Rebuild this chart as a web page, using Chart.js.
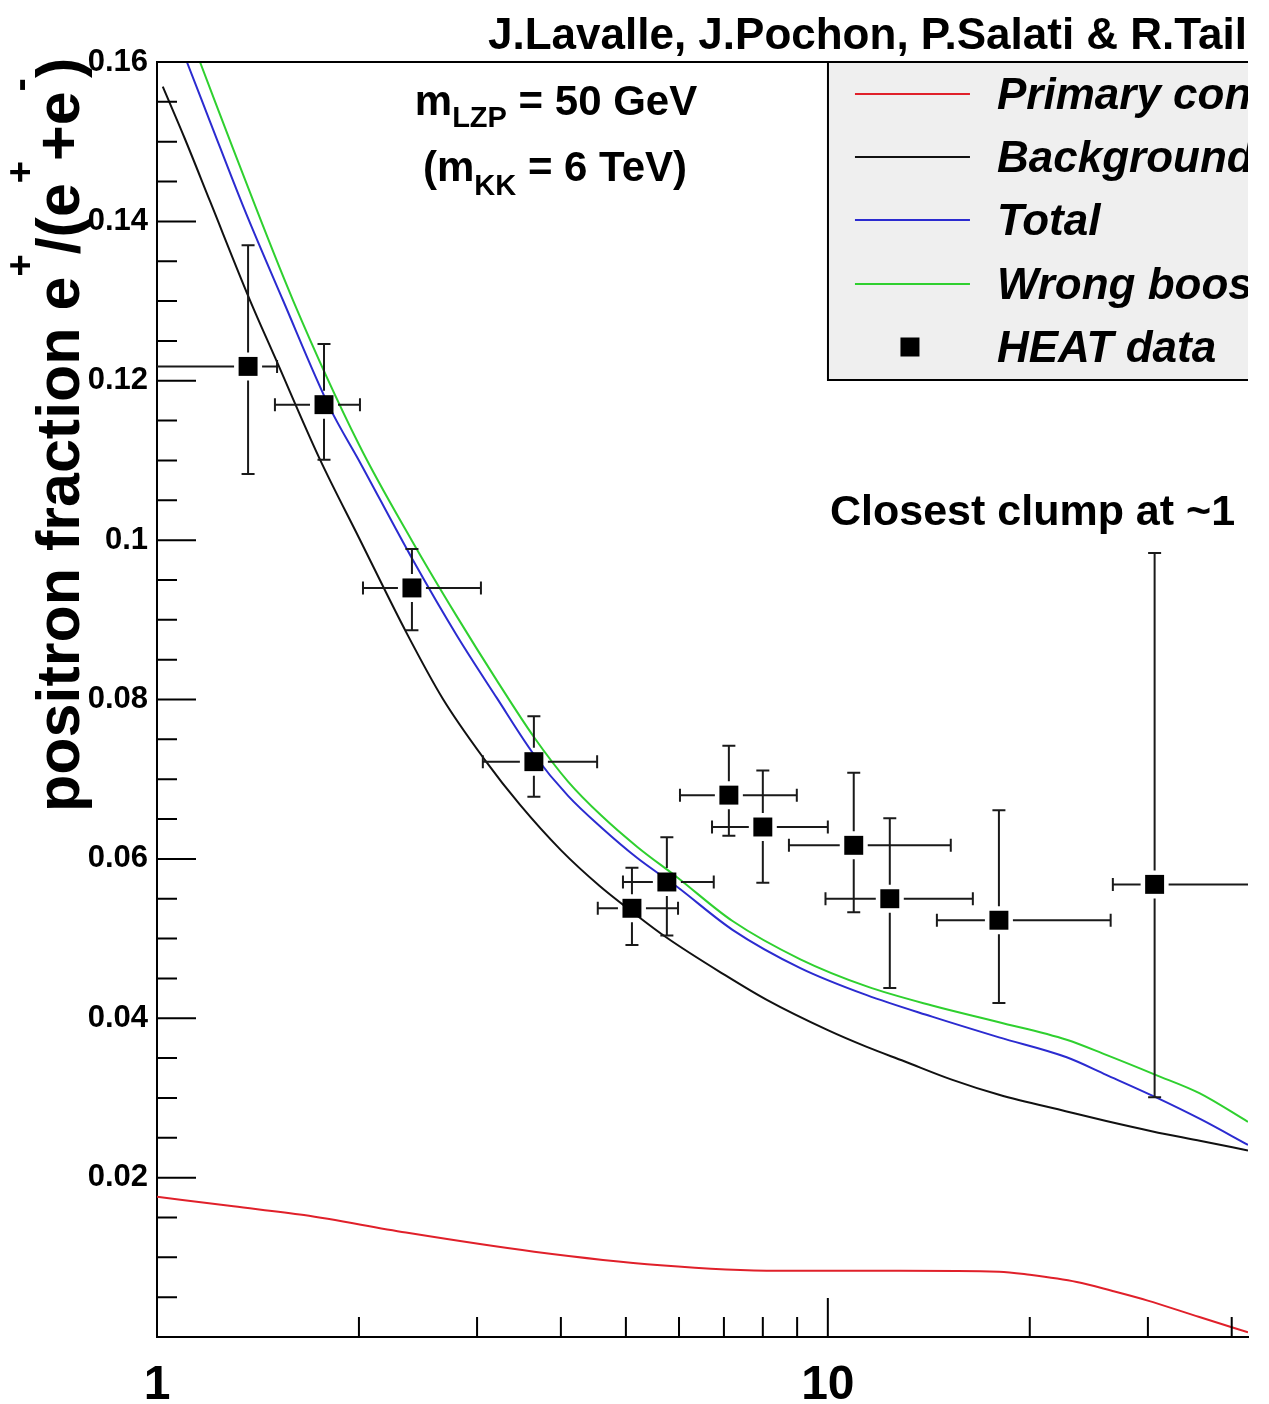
<!DOCTYPE html>
<html>
<head>
<meta charset="utf-8">
<script src="https://cdn.jsdelivr.net/npm/chart.js@4.4.1/dist/chart.umd.min.js"></script>
<style>
  html, body { margin: 0; padding: 0; background: #ffffff; }
  #c { display: block; }
</style>
</head>
<body>
<canvas id="c" width="1269" height="1404"></canvas>
<script>
// ---------------- data ----------------
const xTickValues = [1, 2, 3, 4, 5, 6, 7, 8, 9, 10, 20, 30, 40];
const xTickLabels = ['1', '10'];
const yTickLabels = ['0.02', '0.04', '0.06', '0.08', '0.1', '0.12', '0.14', '0.16'];

// Primary contribution (red)
const priX = [1.0, 1.3, 1.656, 2.35, 3.65, 5.63, 8.44, 12.8, 18.0, 20.0, 23.5, 26.5, 29.9, 35.8, 42.3];
const priY = [0.0176, 0.0164, 0.0153, 0.0131, 0.0107, 0.0090, 0.0083, 0.0083, 0.0082, 0.0078, 0.0069, 0.0058, 0.0046, 0.0025, 0.0006];

// Background (black)
const bgX = [1.02, 1.1, 1.2, 1.376, 1.5, 1.75, 2.0, 2.357, 2.667, 3.083, 3.475, 4.0, 4.57, 5.12, 5.755, 7.0, 8.11, 10.0, 11.43, 13.0, 15.3, 18.0, 22.7, 26.0, 30.5, 36.0, 42.3];
const bgY = [0.1569, 0.1504, 0.1425, 0.1301, 0.1229, 0.1101, 0.1003, 0.0883, 0.0801, 0.0724, 0.0668, 0.0611, 0.0566, 0.0533, 0.0501, 0.0455, 0.0423, 0.0385, 0.0364, 0.0346, 0.0323, 0.0304, 0.0283, 0.0271, 0.0258, 0.0246, 0.0234];

// Total (blue)
const totX = [1.0, 1.108, 1.2, 1.35, 1.541, 1.81, 2.0, 2.407, 2.8, 3.21, 3.646, 4.1, 4.6, 5.2, 5.96, 7.21, 9.1, 11.43, 14.3, 18.0, 22.7, 26.0, 30.8, 36.0, 42.3];
const totY = [0.1693, 0.1600, 0.1525, 0.1415, 0.1301, 0.1166, 0.1100, 0.0975, 0.0880, 0.0802, 0.0731, 0.0679, 0.0639, 0.0601, 0.0565, 0.0511, 0.0463, 0.0429, 0.0402, 0.0376, 0.0351, 0.0329, 0.0301, 0.0273, 0.0241];

// Wrong boost (green)
const wbX = [1.0, 1.159, 1.3, 1.595, 2.0, 2.4, 2.8, 3.21, 3.646, 4.1, 4.6, 5.2, 5.96, 7.21, 9.1, 11.43, 14.3, 18.0, 22.7, 26.0, 30.8, 35.8, 42.3];
const wbY = [0.1738, 0.1600, 0.1490, 0.1301, 0.1120, 0.0999, 0.0904, 0.0824, 0.0753, 0.0697, 0.0654, 0.0615, 0.0577, 0.0522, 0.0474, 0.0440, 0.0416, 0.0395, 0.0373, 0.0354, 0.0329, 0.0306, 0.0270];

// HEAT data
const heatX   = [1.367, 1.774, 2.399, 3.646, 5.105, 5.755, 7.12, 8.00, 10.93, 12.37, 17.99, 30.7];
const heatY   = [0.1218, 0.1170, 0.0940, 0.0722, 0.0538, 0.0571, 0.0680, 0.0640, 0.0617, 0.0550, 0.0523, 0.0568];
const heatYlo = [0.1083, 0.1101, 0.0887, 0.0678, 0.0492, 0.0504, 0.0629, 0.0570, 0.0533, 0.0438, 0.0419, 0.0301];
const heatYhi = [0.1370, 0.1246, 0.0989, 0.0779, 0.0589, 0.0627, 0.0742, 0.0711, 0.0708, 0.0651, 0.0661, 0.0984];
const heatXlo = [0.95, 1.499, 2.028, 3.06, 4.54, 4.95, 6.02, 6.72, 8.75, 9.92, 14.54, 26.6];
const heatXhi = [1.51, 2.007, 3.04, 4.53, 5.98, 6.76, 8.99, 10.0, 15.25, 16.45, 26.4, 50.0];

const legendLabels = ['Primary contribution', 'Background', 'Total', 'Wrong boost', 'HEAT data'];
const titleText = 'J.Lavalle, J.Pochon, P.Salati & R.Taillet';
const clumpText = 'Closest clump at ~1 kpc';

// ---------------- styles ----------------
const FAM = "'Liberation Sans', Arial, Helvetica, sans-serif";
const C_RED = '#e0202a', C_BLACK = '#111111', C_BLUE = '#2b2bd0', C_GREEN = '#2fd02f';

function pts(xs, ys) { return xs.map((x, i) => ({ x: x, y: ys[i] })); }

function runsWidth(ctx, runs, style) {
  let w = 0;
  runs.forEach(r => { ctx.font = style + ' ' + r.s + 'px ' + FAM; w += ctx.measureText(r.t).width; });
  return w;
}
function drawRuns(ctx, runs, x, y, style) {
  let cx = x;
  runs.forEach(r => {
    ctx.font = style + ' ' + r.s + 'px ' + FAM;
    ctx.fillText(r.t, cx, y + (r.dy || 0));
    cx += ctx.measureText(r.t).width;
  });
}

const HEAT_INDEX = 4;

const overlay = {
  id: 'overlay',
  beforeDatasetDraw(chart, args) {
    if (args.index !== HEAT_INDEX) return;
    const { ctx, chartArea: a, scales: { x, y } } = chart;
    ctx.save();
    ctx.beginPath();
    ctx.rect(a.left, a.top, a.right - a.left, a.bottom - a.top);
    ctx.clip();
    ctx.strokeStyle = '#1a1a1a';
    ctx.lineWidth = 2;
    const gap = 14, cap = 6.5;
    for (let i = 0; i < heatX.length; i++) {
      const px = x.getPixelForValue(heatX[i]);
      const py = y.getPixelForValue(heatY[i]);
      const pxl = x.getPixelForValue(heatXlo[i]);
      const pxh = x.getPixelForValue(heatXhi[i]);
      const pyl = y.getPixelForValue(heatYlo[i]);
      const pyh = y.getPixelForValue(heatYhi[i]);
      ctx.beginPath();
      if (px - pxl > gap) { ctx.moveTo(px - gap, py); ctx.lineTo(pxl, py); ctx.moveTo(pxl, py - cap); ctx.lineTo(pxl, py + cap); }
      if (pxh - px > gap) { ctx.moveTo(px + gap, py); ctx.lineTo(pxh, py); ctx.moveTo(pxh, py - cap); ctx.lineTo(pxh, py + cap); }
      if (pyl - py > gap) { ctx.moveTo(px, py + gap); ctx.lineTo(px, pyl); ctx.moveTo(px - cap, pyl); ctx.lineTo(px + cap, pyl); }
      if (py - pyh > gap) { ctx.moveTo(px, py - gap); ctx.lineTo(px, pyh); ctx.moveTo(px - cap, pyh); ctx.lineTo(px + cap, pyh); }
      ctx.stroke();
    }
    ctx.restore();
  },
  afterDatasetsDraw(chart) {
    const { ctx, chartArea: a, scales: { x, y } } = chart;
    ctx.save();
    // the reference picture is cropped at the right edge of the frame
    ctx.beginPath();
    ctx.rect(0, 0, a.right, chart.height);
    ctx.clip();

    // tick marks (inside the frame)
    ctx.strokeStyle = '#000';
    ctx.lineWidth = 2;
    ctx.beginPath();
    x.ticks.forEach(t => {
      const px = x.getPixelForValue(t.value);
      const major = xTickLabels.includes(String(t.value));
      ctx.moveTo(px, a.bottom);
      ctx.lineTo(px, a.bottom - (major ? 39 : 20));
    });
    y.ticks.forEach(t => {
      const py = y.getPixelForValue(t.value);
      const k = t.value / 0.02;
      const major = Math.abs(k - Math.round(k)) < 1e-6;
      ctx.moveTo(a.left, py);
      ctx.lineTo(a.left + (major ? 39 : 20), py);
    });
    ctx.stroke();

    // top frame line
    ctx.beginPath();
    ctx.moveTo(a.left, a.top);
    ctx.lineTo(a.right, a.top);
    ctx.stroke();

    // legend box
    const lx = a.left + 0.615 * (a.right - a.left);
    const ly0 = a.top, ly1 = a.top + 318;
    ctx.fillStyle = '#efefef';
    ctx.fillRect(lx, ly0, a.right - lx, ly1 - ly0);
    ctx.beginPath();
    ctx.moveTo(lx, ly0);
    ctx.lineTo(lx, ly1);
    ctx.lineTo(a.right, ly1);
    ctx.moveTo(lx, ly0);
    ctx.lineTo(a.right, ly0);
    ctx.strokeStyle = '#000';
    ctx.lineWidth = 2;
    ctx.stroke();

    const rows = [32, 95, 158, 222, 285];
    const cols = [C_RED, C_BLACK, C_BLUE, C_GREEN, null];
    rows.forEach((dy, i) => {
      const yy = ly0 + dy;
      if (cols[i]) {
        ctx.strokeStyle = cols[i];
        ctx.lineWidth = 2;
        ctx.beginPath();
        ctx.moveTo(lx + 27, yy);
        ctx.lineTo(lx + 142, yy);
        ctx.stroke();
      } else {
        ctx.fillStyle = '#000';
        ctx.fillRect(lx + 82 - 9.5, yy - 9.5, 19, 19);
      }
      ctx.fillStyle = '#000';
      ctx.font = 'italic bold 44px ' + FAM;
      ctx.textBaseline = 'alphabetic';
      ctx.textAlign = 'left';
      ctx.fillText(legendLabels[i], lx + 169, yy + 15);
    });

    // title
    ctx.fillStyle = '#000';
    ctx.font = 'bold 44px ' + FAM;
    ctx.textAlign = 'left';
    ctx.fillText(titleText, 488, 49);

    // mass annotation
    const r1 = [{ t: 'm', s: 42 }, { t: 'LZP', s: 29, dy: 12 }, { t: ' = 50 GeV', s: 42 }];
    const r2 = [{ t: '(m', s: 42 }, { t: 'KK', s: 29, dy: 14 }, { t: ' = 6 TeV)', s: 42 }];
    const w1 = runsWidth(ctx, r1, 'bold');
    const w2 = runsWidth(ctx, r2, 'bold');
    drawRuns(ctx, r1, 556 - w1 / 2, 115, 'bold');
    drawRuns(ctx, r2, 555 - w2 / 2, 181, 'bold');

    // clump annotation
    ctx.font = 'bold 43px ' + FAM;
    ctx.fillText(clumpText, 830, 525);
    ctx.restore();

    // y axis title (rotated)
    ctx.save();
    ctx.fillStyle = '#000';
    ctx.translate(79, 812);
    ctx.rotate(-Math.PI / 2);
    const yr = [
      { t: 'positron fraction e', s: 61 }, { t: '+', s: 38, dy: -46 },
      { t: '/(e', s: 61 }, { t: '+', s: 38, dy: -46 },
      { t: '+e', s: 61 }, { t: '-', s: 40, dy: -46 },
      { t: ')', s: 61 }
    ];
    drawRuns(ctx, yr, 0, 0, 'bold');
    ctx.restore();
  }
};

const tickFont = { family: FAM, weight: 'bold' };

new Chart(document.getElementById('c'), {
  type: 'line',
  data: {
    datasets: [
      { label: legendLabels[0], data: pts(priX, priY), borderColor: C_RED, borderWidth: 2, pointRadius: 0, cubicInterpolationMode: 'monotone', fill: false, order: 4 },
      { label: legendLabels[1], data: pts(bgX, bgY), borderColor: C_BLACK, borderWidth: 2, pointRadius: 0, cubicInterpolationMode: 'monotone', fill: false, order: 3 },
      { label: legendLabels[2], data: pts(totX, totY), borderColor: C_BLUE, borderWidth: 2, pointRadius: 0, cubicInterpolationMode: 'monotone', fill: false, order: 2 },
      { label: legendLabels[3], data: pts(wbX, wbY), borderColor: C_GREEN, borderWidth: 2, pointRadius: 0, cubicInterpolationMode: 'monotone', fill: false, order: 1 },
      { type: 'scatter', label: legendLabels[4], data: pts(heatX, heatY), pointStyle: 'rect', pointRadius: 13.4, pointHoverRadius: 13.4, backgroundColor: '#000', borderColor: '#000', borderWidth: 0, showLine: false, order: 0 }
    ]
  },
  options: {
    responsive: false,
    devicePixelRatio: 1,
    animation: false,
    events: [],
    layout: { padding: { left: 0, top: 62, right: 21, bottom: 0 } },
    plugins: { legend: { display: false }, tooltip: { enabled: false } },
    scales: {
      x: {
        type: 'logarithmic',
        min: 1, max: 42.3,
        afterBuildTicks: s => { s.ticks = xTickValues.map(v => ({ value: v })); },
        afterFit: s => { s.height = 67; },
        grid: { display: false, drawTicks: false },
        border: { display: true, color: '#000', width: 2 },
        ticks: {
          autoSkip: false, maxRotation: 0, minRotation: 0, padding: 20, color: '#000',
          font: Object.assign({ size: 48 }, tickFont),
          callback: v => xTickLabels.includes(String(v)) ? String(v) : ''
        }
      },
      y: {
        type: 'linear',
        min: 0, max: 0.16,
        afterFit: s => { s.width = 157; },
        grid: { display: false, drawTicks: false },
        border: { display: true, color: '#000', width: 2 },
        ticks: {
          stepSize: 0.005, autoSkip: false, padding: 9, color: '#000',
          font: Object.assign({ size: 31 }, tickFont),
          callback: v => {
            const k = v / 0.02, r = Math.round(k);
            return (Math.abs(k - r) < 1e-6 && r > 0) ? yTickLabels[r - 1] : '';
          }
        }
      }
    }
  },
  plugins: [overlay]
});
</script>
</body>
</html>
